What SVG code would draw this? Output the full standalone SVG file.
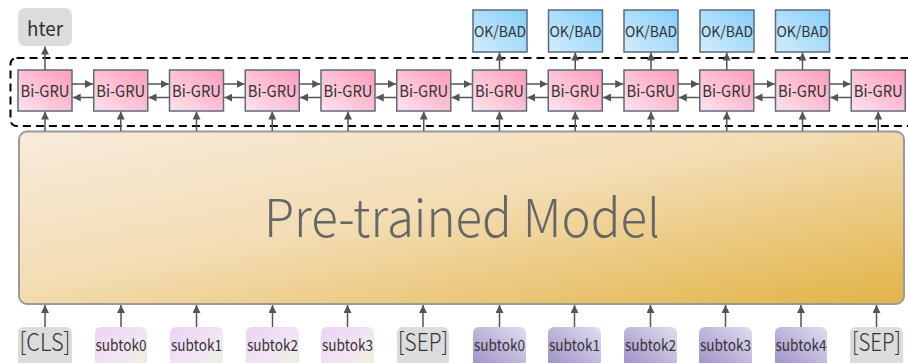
<svg xmlns="http://www.w3.org/2000/svg" width="908" height="363" viewBox="0 0 908 363">
  <defs>
    <linearGradient id="gModel" x1="0" y1="0" x2="1" y2="1">
      <stop offset="0" stop-color="#f8ebdc"/>
      <stop offset="0.45" stop-color="#f3ddb4"/>
      <stop offset="1" stop-color="#e2b446"/>
    </linearGradient>
    <linearGradient id="gGru" x1="0" y1="1" x2="1" y2="0">
      <stop offset="0" stop-color="#fde4ec"/>
      <stop offset="1" stop-color="#ff9cbb"/>
    </linearGradient>
    <linearGradient id="gOk" x1="0" y1="1" x2="1" y2="0">
      <stop offset="0" stop-color="#d4edfb"/>
      <stop offset="1" stop-color="#86cefa"/>
    </linearGradient>
    <linearGradient id="gTokA" x1="0" y1="0" x2="1" y2="1">
      <stop offset="0" stop-color="#ecd2f6"/>
      <stop offset="0.6" stop-color="#f1e6f2"/>
      <stop offset="1" stop-color="#eaf5d8"/>
    </linearGradient>
    <linearGradient id="gTokB" x1="1" y1="0" x2="0" y2="1">
      <stop offset="0" stop-color="#e2ddf0"/>
      <stop offset="1" stop-color="#9c8ec6"/>
    </linearGradient>
    <marker id="arr" markerUnits="userSpaceOnUse" markerWidth="9" markerHeight="9" refX="8" refY="4" orient="auto">
      <path d="M0,0 L8,4 L0,8 z" fill="#555"/>
    </marker>
    <style>
      .gru { fill: url(#gGru); stroke: #5c6b7d; stroke-width: 1.5; }
      .ok { fill: url(#gOk); stroke: #5c6b7d; stroke-width: 1.5; }
      .gray { fill: #dcdcdc; }
      .tokA { fill: url(#gTokA); }
      .tokB { fill: url(#gTokB); }
      .lbl { font-family: "Noto Sans CJK SC", "Noto Sans", sans-serif; fill: #333; text-anchor: middle; }
      .gl { font-size: 16px; }
      .ol { font-size: 15px; }
      .sl { font-size: 15px; }
      .bl { font-size: 25px; font-weight: 300; }
      .conn line { stroke: #555; stroke-width: 1.5; marker-end: url(#arr); }
    </style>
  </defs>
  <rect width="908" height="363" fill="#ffffff"/>

  <!-- recurrent layer frame -->
  <rect id="gru-frame" x="10.5" y="58" width="905" height="68" rx="6" fill="none" stroke="#000" stroke-width="2" stroke-dasharray="8,5"/>

  <!-- encoder -->
  <g id="model">
    <rect x="19" y="131.5" width="885" height="172.5" rx="8" fill="url(#gModel)" stroke="#9a9a9a" stroke-width="2"/>
    <text x="462" y="237" class="lbl" style="font-size:52px;font-weight:300;fill:#666" textLength="396" lengthAdjust="spacingAndGlyphs">Pre-trained Model</text>
  </g>

  <!-- sentence score -->
  <g id="hter">
    <rect x="18" y="8" width="54" height="38" rx="7" class="gray"/>
    <text x="45" y="36" class="lbl" style="font-size:20px" textLength="36" lengthAdjust="spacingAndGlyphs">hter</text>
  </g>

  <!-- word tags -->
  <g id="tag0"><rect x="473" y="10" width="54" height="42" class="ok"/><text x="500" y="37" class="lbl ol" textLength="52" lengthAdjust="spacingAndGlyphs">OK/BAD</text></g>
  <g id="tag1"><rect x="548.5" y="10" width="54" height="42" class="ok"/><text x="575.5" y="37" class="lbl ol" textLength="52" lengthAdjust="spacingAndGlyphs">OK/BAD</text></g>
  <g id="tag2"><rect x="624" y="10" width="54" height="42" class="ok"/><text x="651" y="37" class="lbl ol" textLength="52" lengthAdjust="spacingAndGlyphs">OK/BAD</text></g>
  <g id="tag3"><rect x="700" y="10" width="54" height="42" class="ok"/><text x="727" y="37" class="lbl ol" textLength="52" lengthAdjust="spacingAndGlyphs">OK/BAD</text></g>
  <g id="tag4"><rect x="775.5" y="10" width="54" height="42" class="ok"/><text x="802.5" y="37" class="lbl ol" textLength="52" lengthAdjust="spacingAndGlyphs">OK/BAD</text></g>

  <!-- Bi-GRU cells -->
  <g id="gru0"><rect x="18" y="70" width="54" height="41" class="gru"/><text x="45" y="96.5" class="lbl gl" textLength="49" lengthAdjust="spacingAndGlyphs">Bi-GRU</text></g>
  <g id="gru1"><rect x="93.75" y="70" width="54" height="41" class="gru"/><text x="120.75" y="96.5" class="lbl gl" textLength="49" lengthAdjust="spacingAndGlyphs">Bi-GRU</text></g>
  <g id="gru2"><rect x="169.5" y="70" width="54" height="41" class="gru"/><text x="196.5" y="96.5" class="lbl gl" textLength="49" lengthAdjust="spacingAndGlyphs">Bi-GRU</text></g>
  <g id="gru3"><rect x="245.25" y="70" width="54" height="41" class="gru"/><text x="272.25" y="96.5" class="lbl gl" textLength="49" lengthAdjust="spacingAndGlyphs">Bi-GRU</text></g>
  <g id="gru4"><rect x="321" y="70" width="54" height="41" class="gru"/><text x="348" y="96.5" class="lbl gl" textLength="49" lengthAdjust="spacingAndGlyphs">Bi-GRU</text></g>
  <g id="gru5"><rect x="396.75" y="70" width="54" height="41" class="gru"/><text x="423.75" y="96.5" class="lbl gl" textLength="49" lengthAdjust="spacingAndGlyphs">Bi-GRU</text></g>
  <g id="gru6"><rect x="472.5" y="70" width="54" height="41" class="gru"/><text x="499.5" y="96.5" class="lbl gl" textLength="49" lengthAdjust="spacingAndGlyphs">Bi-GRU</text></g>
  <g id="gru7"><rect x="548.25" y="70" width="54" height="41" class="gru"/><text x="575.25" y="96.5" class="lbl gl" textLength="49" lengthAdjust="spacingAndGlyphs">Bi-GRU</text></g>
  <g id="gru8"><rect x="624" y="70" width="54" height="41" class="gru"/><text x="651" y="96.5" class="lbl gl" textLength="49" lengthAdjust="spacingAndGlyphs">Bi-GRU</text></g>
  <g id="gru9"><rect x="699.75" y="70" width="54" height="41" class="gru"/><text x="726.75" y="96.5" class="lbl gl" textLength="49" lengthAdjust="spacingAndGlyphs">Bi-GRU</text></g>
  <g id="gru10"><rect x="775.5" y="70" width="54" height="41" class="gru"/><text x="802.5" y="96.5" class="lbl gl" textLength="49" lengthAdjust="spacingAndGlyphs">Bi-GRU</text></g>
  <g id="gru11"><rect x="851.25" y="70" width="54" height="41" class="gru"/><text x="878.25" y="96.5" class="lbl gl" textLength="49" lengthAdjust="spacingAndGlyphs">Bi-GRU</text></g>

  <!-- input tokens -->
  <g id="tok-cls"><rect x="18" y="327" width="54" height="42" rx="6" class="gray"/><text x="45" y="351" class="lbl bl" textLength="51" lengthAdjust="spacingAndGlyphs">[CLS]</text></g>
  <g id="tok-a0"><rect x="95" y="327" width="52" height="42" rx="6" class="tokA"/><text x="121" y="351" class="lbl sl" textLength="51" lengthAdjust="spacingAndGlyphs">subtok0</text></g>
  <g id="tok-a1"><rect x="170" y="327" width="53" height="42" rx="6" class="tokA"/><text x="196.5" y="351" class="lbl sl" textLength="51" lengthAdjust="spacingAndGlyphs">subtok1</text></g>
  <g id="tok-a2"><rect x="246" y="327" width="53" height="42" rx="6" class="tokA"/><text x="272.5" y="351" class="lbl sl" textLength="51" lengthAdjust="spacingAndGlyphs">subtok2</text></g>
  <g id="tok-a3"><rect x="321" y="327" width="53" height="42" rx="6" class="tokA"/><text x="347.5" y="351" class="lbl sl" textLength="51" lengthAdjust="spacingAndGlyphs">subtok3</text></g>
  <g id="tok-sep0"><rect x="397" y="327" width="52" height="42" rx="6" class="gray"/><text x="423" y="351" class="lbl bl" textLength="50" lengthAdjust="spacingAndGlyphs">[SEP]</text></g>
  <g id="tok-b0"><rect x="473" y="327" width="53" height="42" rx="6" class="tokB"/><text x="499.5" y="351" class="lbl sl" textLength="51" lengthAdjust="spacingAndGlyphs">subtok0</text></g>
  <g id="tok-b1"><rect x="548" y="327" width="53" height="42" rx="6" class="tokB"/><text x="574.5" y="351" class="lbl sl" textLength="51" lengthAdjust="spacingAndGlyphs">subtok1</text></g>
  <g id="tok-b2"><rect x="624" y="327" width="53" height="42" rx="6" class="tokB"/><text x="650.5" y="351" class="lbl sl" textLength="51" lengthAdjust="spacingAndGlyphs">subtok2</text></g>
  <g id="tok-b3"><rect x="699" y="327" width="53" height="42" rx="6" class="tokB"/><text x="725.5" y="351" class="lbl sl" textLength="51" lengthAdjust="spacingAndGlyphs">subtok3</text></g>
  <g id="tok-b4"><rect x="775" y="327" width="52" height="42" rx="6" class="tokB"/><text x="801" y="351" class="lbl sl" textLength="51" lengthAdjust="spacingAndGlyphs">subtok4</text></g>
  <g id="tok-sep1"><rect x="850" y="327" width="53" height="42" rx="6" class="gray"/><text x="876.5" y="351" class="lbl bl" textLength="49" lengthAdjust="spacingAndGlyphs">[SEP]</text></g>

  <g id="connectors" class="conn">
    <!-- tokens into encoder -->
    <line x1="45" y1="327" x2="45" y2="305"/>
    <line x1="121" y1="327" x2="121" y2="305"/>
    <line x1="196.5" y1="327" x2="196.5" y2="305"/>
    <line x1="272.5" y1="327" x2="272.5" y2="305"/>
    <line x1="347.5" y1="327" x2="347.5" y2="305"/>
    <line x1="423" y1="327" x2="423" y2="305"/>
    <line x1="499.5" y1="327" x2="499.5" y2="305"/>
    <line x1="574.5" y1="327" x2="574.5" y2="305"/>
    <line x1="650.5" y1="327" x2="650.5" y2="305"/>
    <line x1="725.5" y1="327" x2="725.5" y2="305"/>
    <line x1="801" y1="327" x2="801" y2="305"/>
    <line x1="876.5" y1="327" x2="876.5" y2="305"/>
    <!-- encoder into Bi-GRU -->
    <line x1="45" y1="131" x2="45" y2="111.5"/>
    <line x1="120.75" y1="131" x2="120.75" y2="111.5"/>
    <line x1="196.5" y1="131" x2="196.5" y2="111.5"/>
    <line x1="272.25" y1="131" x2="272.25" y2="111.5"/>
    <line x1="348" y1="131" x2="348" y2="111.5"/>
    <line x1="423.75" y1="131" x2="423.75" y2="111.5"/>
    <line x1="499.5" y1="131" x2="499.5" y2="111.5"/>
    <line x1="575.25" y1="131" x2="575.25" y2="111.5"/>
    <line x1="651" y1="131" x2="651" y2="111.5"/>
    <line x1="726.75" y1="131" x2="726.75" y2="111.5"/>
    <line x1="802.5" y1="131" x2="802.5" y2="111.5"/>
    <line x1="878.25" y1="131" x2="878.25" y2="111.5"/>
    <!-- forward direction -->
    <line x1="72" y1="84" x2="93" y2="84"/>
    <line x1="147.75" y1="84" x2="168.75" y2="84"/>
    <line x1="223.5" y1="84" x2="244.5" y2="84"/>
    <line x1="299.25" y1="84" x2="320.25" y2="84"/>
    <line x1="375" y1="84" x2="396" y2="84"/>
    <line x1="450.75" y1="84" x2="471.75" y2="84"/>
    <line x1="526.5" y1="84" x2="547.5" y2="84"/>
    <line x1="602.25" y1="84" x2="623.25" y2="84"/>
    <line x1="678" y1="84" x2="699" y2="84"/>
    <line x1="753.75" y1="84" x2="774.75" y2="84"/>
    <line x1="829.5" y1="84" x2="850.5" y2="84"/>
    <!-- backward direction -->
    <line x1="93.75" y1="97.5" x2="72.75" y2="97.5"/>
    <line x1="169.5" y1="97.5" x2="148.5" y2="97.5"/>
    <line x1="245.25" y1="97.5" x2="224.25" y2="97.5"/>
    <line x1="321" y1="97.5" x2="300" y2="97.5"/>
    <line x1="396.75" y1="97.5" x2="375.75" y2="97.5"/>
    <line x1="472.5" y1="97.5" x2="451.5" y2="97.5"/>
    <line x1="548.25" y1="97.5" x2="527.25" y2="97.5"/>
    <line x1="624" y1="97.5" x2="603" y2="97.5"/>
    <line x1="699.75" y1="97.5" x2="678.75" y2="97.5"/>
    <line x1="775.5" y1="97.5" x2="754.5" y2="97.5"/>
    <line x1="851.25" y1="97.5" x2="830.25" y2="97.5"/>
    <!-- outputs -->
    <line x1="45" y1="70" x2="45" y2="46.5"/>
    <line x1="499.5" y1="70" x2="499.5" y2="52.5"/>
    <line x1="575.25" y1="70" x2="575.25" y2="52.5"/>
    <line x1="651" y1="70" x2="651" y2="52.5"/>
    <line x1="726.75" y1="70" x2="726.75" y2="52.5"/>
    <line x1="802.5" y1="70" x2="802.5" y2="52.5"/>
  </g>
</svg>
